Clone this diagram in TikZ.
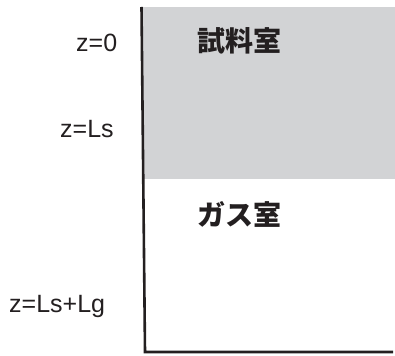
\documentclass[tikz,border=0pt]{standalone}
\usepackage{fontspec}
\setmainfont{Liberation Sans}
\newfontfamily\cjk{Noto Sans CJK JP}
\definecolor{chamber}{RGB}{210,211,213}
\definecolor{ink}{RGB}{35,31,32}
\begin{document}
\begin{tikzpicture}[x=1pt,y=-1pt,
  zlabel/.style={inner sep=0pt,anchor=base west,text=ink,font=\fontsize{25}{30}\selectfont},
  roomlabel/.style={inner sep=0pt,anchor=base west,text=ink,font=\cjk\bfseries\fontsize{28}{34}\selectfont},
  wall/.style={draw=ink,line width=2.6pt,line join=miter}]
\useasboundingbox (0,0) rectangle (395,355);
\fill[chamber] (143,7) rectangle (395,179);
\coordinate (top) at (141.5,7);
\coordinate (corner) at (145,352);
\coordinate (right) at (393,352);
\draw[wall] (top) -- (corner) -- (right);
\node[zlabel] (z0) at (76,52) {z=0};
\node[zlabel] (zls) at (60,138) {z=Ls};
\node[zlabel] (zlg) at (9,312) {z=Ls+Lg};
\node[roomlabel] (sample) at (197,52) {試料室};
\node[roomlabel] (gas) at (197,225) {ガス室};
\end{tikzpicture}
\end{document}
